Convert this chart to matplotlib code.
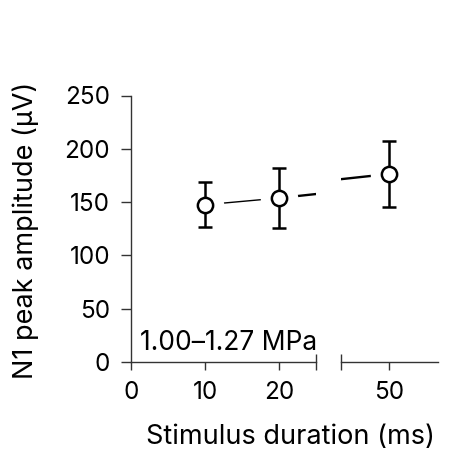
import matplotlib
matplotlib.use("Agg")
import matplotlib.pyplot as plt
import numpy as np

durations = [10, 20, 50]
amplitude = [147.5, 153.8, 176.4]
err_low = [127.0, 125.6, 145.4]
err_high = [168.6, 181.7, 207.3]
y_ticks = [0, 50, 100, 150, 200, 250]
x_ticks_left = [0, 10, 20]
x_ticks_right = [50]
annotation = "1.00–1.27 MPa"

plt.rcParams['font.family'] = ['Inter', 'DejaVu Sans']
fs = 17.5
fs_lab = 19.5
spine_c = '#333333'

fig = plt.figure(figsize=(4.59, 4.62), dpi=100)
W, H = 459, 462
y0, y1 = 362, 95.5
ax1 = fig.add_axes([131 / W, (H - y0) / H, 185 / W, (y0 - y1) / H])
ax2 = fig.add_axes([341 / W, (H - y0) / H, 97 / W, (y0 - y1) / H], sharey=ax1)

ax1.set_xlim(0, 25)
ax2.set_xlim(43.5, 56.6)
ax1.set_ylim(0, 250)

x = np.array(durations, float)
y = np.array(amplitude, float)
lo = y - np.array(err_low)
hi = np.array(err_high) - y

for ax in (ax1, ax2):
    ax.plot(x[:2], y[:2], color='black', lw=1.0, zorder=1)
    ax.plot(x[1:], y[1:], color='black', lw=1.7, zorder=1)
    ax.plot(x, y, 'o', ms=27, color='white', mec='none', zorder=2)
    ax.errorbar(x, y, yerr=[lo, hi], fmt='none', ecolor='black',
                elinewidth=1.8, capsize=5, capthick=1.8, zorder=3)
    ax.plot(x, y, 'o', ms=11, mfc='white', mec='black', mew=1.8, zorder=4)
    for s in ('top', 'right'):
        ax.spines[s].set_visible(False)
    ax.spines['bottom'].set_color(spine_c)
    ax.spines['left'].set_color(spine_c)
    ax.spines['bottom'].set_linewidth(1.0)
    ax.spines['left'].set_linewidth(1.0)
    ax.tick_params(axis='x', direction='out', length=6, width=1.0,
                   color=spine_c, labelsize=fs, pad=8)
    ax.tick_params(axis='y', direction='out', length=7, width=1.0,
                   color=spine_c, labelsize=fs, pad=8)
    ax.patch.set_alpha(0)

ax1.set_xticks(x_ticks_left)
ax2.set_xticks(x_ticks_right)
ax1.set_yticks(y_ticks)
ax2.spines['left'].set_visible(False)
ax2.tick_params(axis='y', left=False, labelleft=False)

ax1.plot([25], [0], marker='|', ms=12, mew=1.0, color=spine_c, clip_on=False, zorder=5)
ax2.plot([43.5], [0], marker='|', ms=12, mew=1.0, color=spine_c, clip_on=False, zorder=5)

ax1.text(1.2, 6, annotation, fontsize=19, ha='left', va='bottom')

fig.text(26 / W, 1 - 230 / H, 'N1 peak amplitude (μV)', fontsize=fs_lab,
         ha='center', va='center', rotation=90)
fig.text(290 / W, 1 - 437 / H, 'Stimulus duration (ms)', fontsize=fs_lab,
         ha='center', va='center')

fig.savefig('out.png', dpi=100)
